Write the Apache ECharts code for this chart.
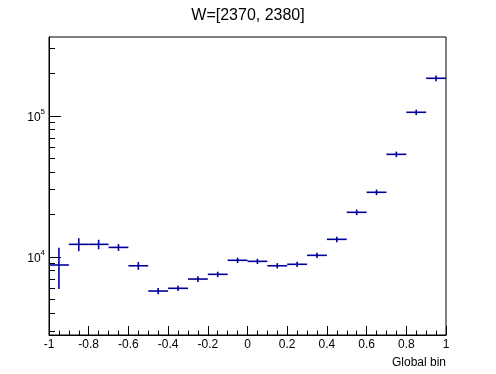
<!DOCTYPE html>
<html>
<head>
<meta charset="utf-8">
<script src="https://cdn.jsdelivr.net/npm/echarts@6/dist/echarts.min.js"></script>
<style>
html,body{margin:0;padding:0;background:#fff;}
#chart{width:496px;height:374px;}
</style>
</head>
<body>
<div id="chart"></div>
<script>
// ---- data ----
var titleText = 'W=[2370, 2380]';
var xAxisTitle = 'Global bin';
var binCenters = [-0.95, -0.85, -0.75, -0.65, -0.55, -0.45, -0.35, -0.25, -0.15, -0.05,
                  0.05, 0.15, 0.25, 0.35, 0.45, 0.55, 0.65, 0.75, 0.85, 0.95];
var binHalfWidth = 0.05;
var binValues = [8780, 12300, 12300, 11700, 8670, 5740, 6000, 6980, 7540, 9480,
                 9320, 8670, 8880, 10280, 13350, 20750, 28770, 53460, 106200, 185000];
var binErrors = [2850, 1300, 950, 650, 550, 300, 260, 320, 330, 420,
                 400, 380, 390, 450, 600, 950, 1300, 2400, 4800, 8500];
var yMajorTicks = [10000, 100000];
var yMinorTicks = [3000, 4000, 5000, 6000, 7000, 8000, 9000,
                   20000, 30000, 40000, 50000, 60000, 70000, 80000, 90000,
                   200000, 300000];
var yMin = 2800, yMax = 363000;

var lineColor = '#000099';
var font = 'Liberation Sans, Arial, Helvetica, sans-serif';

var seriesData = binCenters.map(function (c, i) { return [c, binValues[i], binErrors[i]]; });

var chart = echarts.init(document.getElementById('chart'), null, {renderer: 'canvas'});
chart.setOption({
  animation: false,
  backgroundColor: '#ffffff',
  title: {
    text: titleText,
    left: 'center',
    top: 3,
    textStyle: {fontFamily: font, fontSize: 16, fontWeight: 'normal', color: '#000'}
  },
  grid: {
    left: 49, right: 50, top: 37, bottom: 39,
    show: true, borderColor: '#000', borderWidth: 1, backgroundColor: 'transparent'
  },
  xAxis: {
    type: 'value',
    min: -1, max: 1, interval: 0.2,
    axisLine: {show: true, onZero: false, lineStyle: {color: '#000', width: 1}},
    axisTick: {show: true, inside: true, length: 9, lineStyle: {color: '#000'}},
    minorTick: {show: true, splitNumber: 4, length: 4.5, lineStyle: {color: '#000'}},
    splitLine: {show: false},
    axisLabel: {
      margin: 4, color: '#000', fontFamily: font, fontSize: 12,
      formatter: function (v) { return String(Math.round(v * 10) / 10); }
    },
    name: xAxisTitle,
    nameLocation: 'end',
    nameGap: 0,
    nameTextStyle: {
      fontFamily: font, fontSize: 12, color: '#000',
      align: 'right', verticalAlign: 'top', padding: [22, 0, 0, 0]
    }
  },
  yAxis: [{
    type: 'log',
    logBase: 10,
    position: 'left',
    min: yMin, max: yMax,
    axisLine: {show: true, onZero: false, lineStyle: {color: '#000', width: 1}},
    axisTick: {show: true, inside: true, length: 12, customValues: yMajorTicks, lineStyle: {color: '#000'}},
    splitLine: {show: false},
    axisLabel: {
      margin: 4,
      customValues: yMajorTicks,
      formatter: function (v) {
        return '{b|10}{s|' + Math.round(Math.log10(v)) + '}';
      },
      rich: {
        b: {fontFamily: font, fontSize: 12, color: '#000', lineHeight: 16, verticalAlign: 'bottom'},
        s: {fontFamily: font, fontSize: 8, color: '#000', lineHeight: 16, verticalAlign: 'top'}
      }
    }
  }, {
    type: 'log',
    logBase: 10,
    position: 'left',
    offset: 0,
    min: yMin, max: yMax,
    axisLine: {show: true, onZero: false, lineStyle: {color: '#000', width: 1}},
    axisTick: {show: true, inside: true, length: 6, customValues: yMinorTicks, lineStyle: {color: '#000'}},
    splitLine: {show: false},
    axisLabel: {show: false}
  }],
  series: [{
    type: 'custom',
    xAxisIndex: 0,
    yAxisIndex: 0,
    data: seriesData,
    renderItem: function (params, api) {
      var x = api.value(0), y = api.value(1), e = api.value(2);
      var pL = api.coord([x - binHalfWidth, y]);
      var pR = api.coord([x + binHalfWidth, y]);
      var pT = api.coord([x, y + e]);
      var pB = api.coord([x, Math.max(y - e, 1)]);
      var st = {stroke: lineColor, lineWidth: 1.6};
      return {
        type: 'group',
        children: [
          {type: 'line', shape: {x1: pL[0], y1: pL[1], x2: pR[0], y2: pR[1]}, style: st},
          {type: 'line', shape: {x1: pT[0], y1: pT[1], x2: pB[0], y2: pB[1]}, style: st}
        ]
      };
    }
  }]
});
</script>
</body>
</html>
